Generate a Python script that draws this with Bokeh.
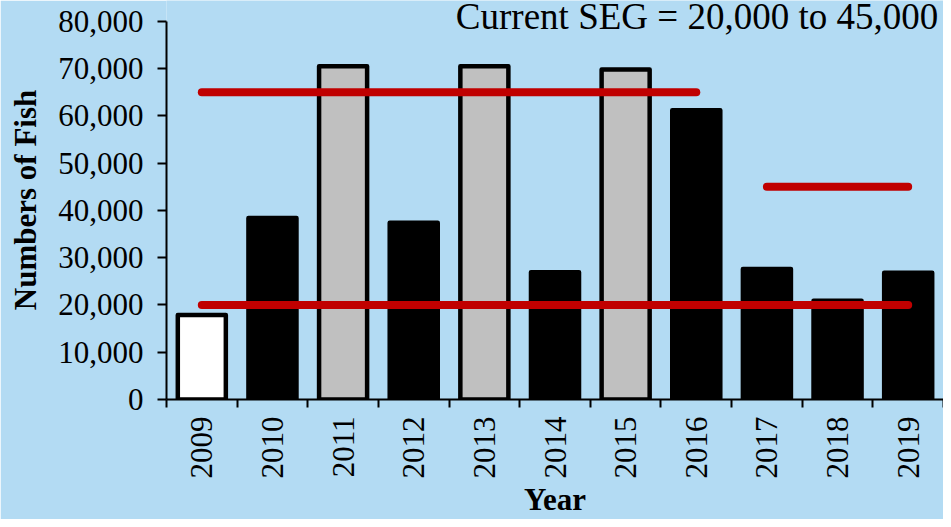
import math
from bokeh.plotting import figure
from bokeh.core.properties import value
from bokeh.models import (Range1d, LinearAxis, FixedTicker, NumeralTickFormatter,
                          ColumnDataSource)
from bokeh.embed import file_html
from bokeh.resources import INLINE

# ---- data ----
years = ["2009", "2010", "2011", "2012", "2013", "2014", "2015", "2016", "2017", "2018", "2019"]
fish_counts = [17850, 38400, 70500, 37400, 70500, 26900, 69800, 61200, 27600, 20900, 26800]
bar_fill = ["white", "black", "#C0C0C0", "black", "#C0C0C0", "black", "#C0C0C0",
            "black", "black", "black", "black"]
goal_start = ["2009", "2009", "2017"]
goal_end = ["2016", "2019", "2019"]
goal_value = [65000, 20000, 45000]
y_ticks = [0, 10000, 20000, 30000, 40000, 50000, 60000, 70000, 80000]
annotation_text = "Current SEG = 20,000 to 45,000"

BG = "#B3DBF3"
FONT = "Times New Roman"

centers = [i + 0.5 for i in range(len(years))]
edges = list(range(len(years) + 1))
pos = dict(zip(years, centers))

# frame spans the full top of the figure; leave ~20px of headroom above the top tick
FRAME_H = 402.0
HEADROOM = 21.0
y_view_top = y_ticks[-1] * FRAME_H / (FRAME_H - HEADROOM)

p = figure(width=943, height=519, x_range=Range1d(0, len(years)),
           y_range=Range1d(y_ticks[0], y_view_top),
           output_backend="svg", toolbar_location=None, x_axis_location=None,
           min_border_left=166, min_border_right=0, min_border_top=0, min_border_bottom=10)
p.background_fill_color = BG
p.border_fill_color = BG
p.outline_line_color = None
p.xgrid.visible = False
p.ygrid.visible = False

src = ColumnDataSource(dict(x=centers, top=fish_counts, fill=bar_fill))
p.vbar(x="x", top="top", bottom=0, width=0.68, source=src, fill_color="fill",
       line_color="black", line_width=4.5, line_join="round")

gsrc = ColumnDataSource(dict(x0=[pos[s] for s in goal_start], x1=[pos[e] for e in goal_end],
                             y=goal_value))
p.segment(x0="x0", y0="y", x1="x1", y1="y", source=gsrc, line_color="#C00000",
          line_width=8, line_cap="round")

ya = p.yaxis[0]
ya.ticker = FixedTicker(ticks=y_ticks)
ya.bounds = (y_ticks[0], y_ticks[-1])
ya.formatter = NumeralTickFormatter(format="0,0")
ya.major_label_text_font = FONT
ya.major_label_text_font_size = "31px"
ya.major_label_text_color = "black"
ya.major_tick_out = 9
ya.major_tick_in = 0
ya.minor_tick_line_color = None
ya.axis_line_width = 2
ya.major_tick_line_width = 2
ya.major_label_standoff = 14
ya.axis_label = "Numbers of Fish"
ya.axis_label_text_font = FONT
ya.axis_label_text_font_style = "bold"
ya.axis_label_text_font_size = "31px"
ya.axis_label_text_color = "black"
ya.axis_label_standoff = 12

# year labels at category centres, tick marks (minor) at category boundaries
xa = LinearAxis(ticker=FixedTicker(ticks=centers, minor_ticks=edges),
                major_label_overrides={c: y for c, y in zip(centers, years)},
                major_tick_line_color=None, major_tick_out=8, major_tick_in=0,
                minor_tick_out=8, minor_tick_in=0, minor_tick_line_width=2,
                minor_tick_line_color="black",
                axis_line_width=2, axis_line_color="black",
                major_label_orientation=math.pi / 2,
                major_label_text_font=FONT, major_label_text_font_size="31px",
                major_label_text_color="black", major_label_standoff=9,
                axis_label="Year", axis_label_text_font=FONT,
                axis_label_text_font_style="bold", axis_label_text_font_size="31px",
                axis_label_text_color="black", axis_label_standoff=0)
p.add_layout(xa, "below")

tsrc = ColumnDataSource(dict(x=[centers[-1]], y=[y_ticks[-1]], t=[annotation_text]))
p.text(x="x", y="y", text="t", source=tsrc, x_offset=30, y_offset=-5,
       text_align="right", text_baseline="alphabetic",
       text_font=value(FONT), text_font_size="37px", text_color="black")

open("out.html", "w").write(file_html(p, INLINE))
